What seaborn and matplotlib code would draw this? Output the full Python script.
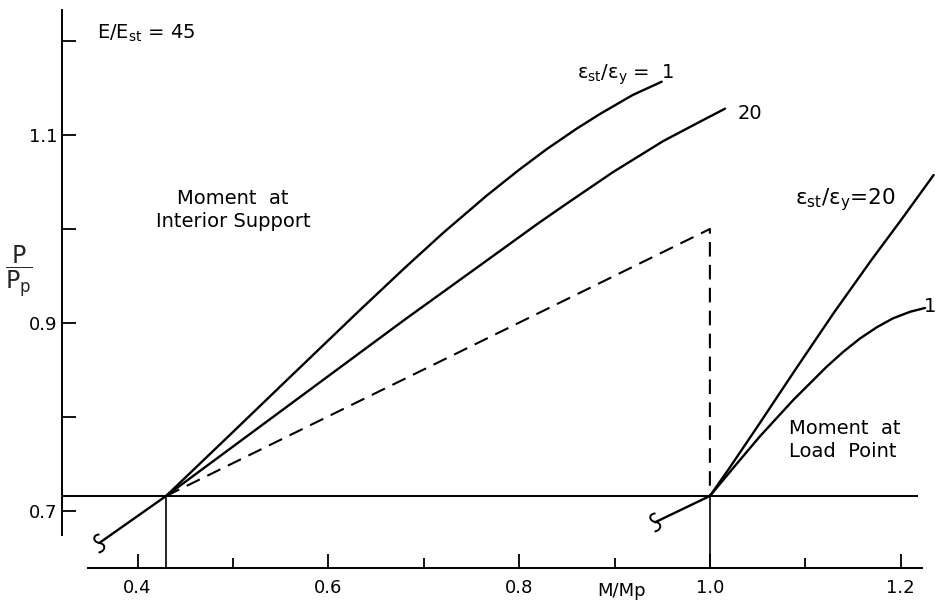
import matplotlib
matplotlib.use("Agg")
import matplotlib.pyplot as plt
import seaborn as sns
from matplotlib.path import Path

sns.set_theme(style="white")
plt.rcParams["font.family"] = ["DejaVu Sans"]
plt.rcParams["mathtext.fontset"] = "dejavusans"
plt.rcParams["mathtext.default"] = "regular"

# Load ratio at first yield and the moments at which the curves branch
p_yield = 0.716
m_support_yield = 0.43
m_load_yield = 1.0
p_mechanism = 1.0

# Common elastic branches (before yield)
support_pre_m = [0.36, 0.43]
support_pre_p = [0.666, 0.716]
load_pre_m = [0.9425, 1.0]
load_pre_p = [0.688, 0.716]

# Moment at interior support, est/ey = 1 and 20
support_st1_m = [0.43, 0.50, 0.5567, 0.6332, 0.68, 0.72, 0.766, 0.80, 0.829,
                 0.86, 0.885, 0.919, 0.9495]
support_st1_p = [0.716, 0.784, 0.8394, 0.9138, 0.9585, 0.9955, 1.0355, 1.063,
                 1.085, 1.1065, 1.1225, 1.1425, 1.1567]
support_st20_m = [0.43, 0.52, 0.60, 0.68, 0.76, 0.82, 0.8499, 0.8984, 0.951,
                  0.9865, 1.0158]
support_st20_p = [0.716, 0.7835, 0.8435, 0.9035, 0.962, 1.006, 1.027, 1.0605,
                  1.0935, 1.1125, 1.128]

# Moment at load point, est/ey = 20 and 1
load_st20_m = [1.0, 1.02, 1.05, 1.09, 1.13, 1.17, 1.20, 1.2345]
load_st20_p = [0.716, 0.745, 0.790, 0.851, 0.911, 0.968, 1.009, 1.0574]
load_st1_m = [1.0, 1.03, 1.0525, 1.0873, 1.1224, 1.14, 1.1573, 1.175, 1.192,
              1.21, 1.2255]
load_st1_p = [0.716, 0.7525, 0.7795, 0.818, 0.8535, 0.8695, 0.8835, 0.8955,
              0.905, 0.912, 0.916]

x_ticks = [0.4, 0.6, 0.8, 1.0, 1.2]
x_tick_labels = ["0.4", "0.6", "0.8", "1.0", "1.2"]
x_minor = [0.5, 0.7, 0.9, 1.1]
y_ticks = [0.7, 0.8, 0.9, 1.0, 1.1, 1.2]
y_tick_labels = ["0.7", "", "0.9", "", "1.1", ""]

W, H = 936, 602
fig = plt.figure(figsize=(W / 100, H / 100), dpi=100)
ax = fig.add_axes([62 / W, 34 / H, (W - 62) / W, (H - 34) / H])

# pixel scale: 0.1 in M/Mp = 95.4 px, 0.1 in P/Pp = 94 px
x0 = 0.4 - (137.5 - 62) / 954
y0 = 0.7 - (568 - 511) / 940
x1 = x0 + (W - 62) / 954
ax.set_xlim(x0, x1)
ax.set_ylim(y0, y0 + (H - 34) / 940)

lw = 1.7
kw = dict(ax=ax, color="black", linewidth=lw, sort=False, estimator=None, legend=False)
for m, p in [(support_pre_m, support_pre_p), (load_pre_m, load_pre_p),
             (support_st1_m, support_st1_p), (support_st20_m, support_st20_p),
             (load_st20_m, load_st20_p), (load_st1_m, load_st1_p)]:
    sns.lineplot(x=m, y=p, **kw)

# break symbol at the start of the elastic branches
curl = Path([(0.0, 0.9), (-0.7, 0.9), (-0.7, 0.15), (0.0, 0.05),
             (0.7, -0.05), (0.6, -0.8), (-0.1, -0.9)],
            [Path.MOVETO, Path.CURVE4, Path.CURVE4, Path.CURVE4,
             Path.CURVE4, Path.CURVE4, Path.CURVE4])
for m, p in [(support_pre_m, support_pre_p), (load_pre_m, load_pre_p)]:
    ax.plot(m[0], p[0], marker=curl, markersize=13, markerfacecolor="none",
            markeredgecolor="black", markeredgewidth=1.4, linestyle="none")

# mechanism (dashed) line
ax.plot([m_support_yield, m_load_yield, m_load_yield],
        [p_yield, p_mechanism, p_yield],
        color="black", linewidth=1.5, linestyle=(0, (7, 4)))

# yield level and its projections to the moment axis
ax.hlines(p_yield, x0, 1.218, color="black", linewidth=1.4)
ax.vlines([m_support_yield, m_load_yield], y0, p_yield, color="black", linewidth=1.2)

# axes styling
for s in ["top", "right"]:
    ax.spines[s].set_visible(False)
ax.spines["left"].set_bounds(0.6745, 1.233)
ax.spines["bottom"].set_bounds(0.348, 1.222)
for s in ["left", "bottom"]:
    ax.spines[s].set_color("black")
    ax.spines[s].set_linewidth(1.4)

ax.set_xticks(x_ticks)
ax.set_xticklabels(x_tick_labels)
ax.set_xticks(x_minor, minor=True)
ax.set_yticks(y_ticks)
ax.set_yticklabels(y_tick_labels)
ax.tick_params(axis="both", which="both", direction="in", colors="black",
               bottom=True, left=True, width=1.3, labelsize=13)
ax.tick_params(axis="x", which="major", length=10, pad=8)
ax.tick_params(axis="x", which="minor", length=7)
ax.tick_params(axis="y", which="major", length=10, pad=3)

ax.set_xlabel("M/Mp", fontsize=13, color="black")
ax.xaxis.set_label_coords((622 - 62) / (W - 62), -0.025)
fig.text(19 / W, 1 - 272 / H, r"$\dfrac{P}{P_p}$", fontsize=17, ha="center", va="center")

tk = dict(color="black", fontsize=14)
ax.text(0.3576, 1.2085, r"E/E$_{st}$ = 45", ha="left", va="center", **tk)
ax.text(0.5, 1.02, "Moment  at\nInterior Support", ha="center", va="center",
        linespacing=1.25, **tk)
ax.text(1.1416, 0.7755, "Moment  at\nLoad  Point", ha="center", va="center",
        multialignment="left", linespacing=1.25, **tk)
ax.text(0.8607, 1.1638, r"$\epsilon_{st}/\epsilon_{y}$ =  1", ha="left", va="center", **tk)
ax.text(1.0294, 1.1234, "20", ha="left", va="center", **tk)
ax.text(1.089, 1.031, r"$\epsilon_{st}/\epsilon_{y}$=20", ha="left", va="center",
        color="black", fontsize=15.5)
ax.text(x1, 0.918, "1", ha="right", va="center", **tk)

fig.savefig("out.png", dpi=100)
